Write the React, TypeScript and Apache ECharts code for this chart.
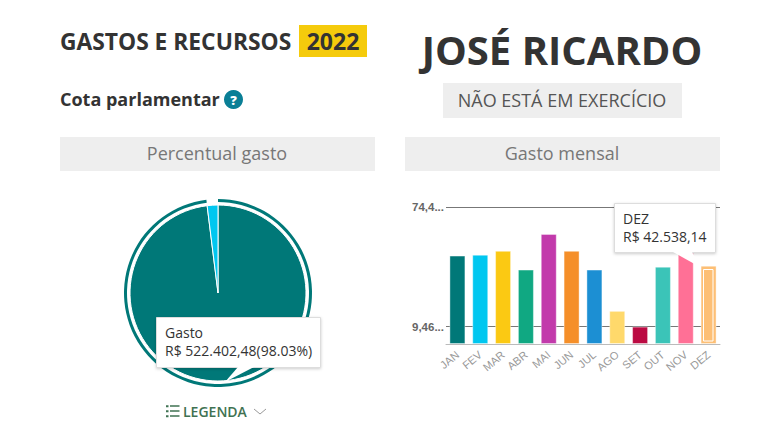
import React, { useEffect, useRef } from "react";
import * as echarts from "echarts";

const months = ["JAN", "FEV", "MAR", "ABR", "MAI", "JUN", "JUL", "AGO", "SET", "OUT", "NOV", "DEZ"];
const monthly = [48000, 48500, 50600, 40400, 59800, 50600, 40400, 18000, 9460, 42000, 74400, 42538.14];
const barColors = ["#007878", "#00c7f0", "#fbc913", "#10a882", "#c23aab", "#f58f29", "#1c8fd3", "#ffd96b", "#bb0a42", "#3bc4b8", "#ff7096", "#fdbf75"];
const yTicks = [9460, 74400];
const yTickLabels = ["9,46...", "74,4..."];
const pieNames = ["Gasto", "Disponível"];
const pieValues = [522402.48, 10500];
const pieColors = ["#007878", "#00c7f0"];
const FONT = '"Open Sans", sans-serif';

const App = () => {
  const ref = useRef<HTMLDivElement>(null);
  useEffect(() => {
    document.body.style.margin = "0";
    const chart = echarts.init(ref.current!, undefined, { renderer: "svg" });
    const text = (x: number, y: number, t: string, size: number, fill: string, weight = 400, align = "center", z = 10) => ({
      type: "text", x, y, z,
      style: { text: t, fontFamily: FONT, fontSize: size, fontWeight: weight, fill, align, verticalAlign: "middle" },
    });
    const rect = (x: number, y: number, width: number, height: number, fill: string, z = 1) => ({
      type: "rect", z, shape: { x, y, width, height }, style: { fill },
    });
    const tipStyle = { fill: "#fff", stroke: "#ddd", lineWidth: 1, shadowBlur: 3, shadowColor: "rgba(0,0,0,0.2)", shadowOffsetY: 1 };
    const tooltip = (x: number, y: number, w: number, h: number, arrow: number[][], l1: string, l2: string) => [
      { type: "rect", z: 20, shape: { x: x + 0.5, y: y + 0.5, width: w - 1, height: h - 1 }, style: tipStyle },
      { type: "polygon", z: 21, shape: { points: arrow }, style: { fill: "#fff" } },
      text(x + 9, y + 15, l1, 14, "#333", 400, "left", 22),
      text(x + 9, y + 33, l2, 14, "#333", 400, "left", 22),
    ];
    chart.setOption({
      animation: false,
      backgroundColor: "#fff",
      grid: { left: 446, right: 60, top: 207, bottom: 101, containLabel: false },
      tooltip: { show: false },
      xAxis: {
        type: "category", data: months,
        axisTick: { show: false },
        axisLine: { lineStyle: { color: "#bbb" } },
        axisLabel: { rotate: 40, color: "#999", fontSize: 11, fontFamily: "Liberation Sans, sans-serif", interval: 0, margin: 9 },
      },
      yAxis: {
        type: "value", min: 0, max: 74400,
        axisLine: { show: false },
        axisTick: { show: false, customValues: yTicks },
        axisLabel: {
          customValues: yTicks, color: "#666", fontSize: 11.5, fontWeight: 700, fontFamily: "Liberation Sans, sans-serif", margin: 2,
          formatter: (v: number) => yTickLabels[yTicks.indexOf(v)],
        },
        splitLine: { show: true, lineStyle: { color: "#777" } },
      },
      series: [
        {
          type: "bar", barWidth: 16,
          data: monthly.map((v, i) => ({
            value: v,
            itemStyle: { color: barColors[i], borderColor: "rgba(255,255,255,0.4)", borderWidth: 1 },
          })),
        },
        {
          type: "pie", center: [218, 293], radius: [0, 88], silent: true, startAngle: 90,
          label: { show: false }, labelLine: { show: false },
          itemStyle: { borderColor: "#fff", borderWidth: 1 },
          data: pieValues.map((v, i) => ({ name: pieNames[i], value: v, itemStyle: { color: pieColors[i] } })),
        },
        {
          type: "pie", center: [218, 293], radius: [91, 94], silent: true, startAngle: 90,
          label: { show: false }, labelLine: { show: false },
          data: pieValues.map((v, i) => ({ name: pieNames[i], value: v, itemStyle: { color: i === 0 ? pieColors[0] : "rgba(0,0,0,0)" } })),
        },
      ],
      graphic: { elements: [
        text(60, 41, "GASTOS E RECURSOS", 22.8, "#333", 700, "left"),
        rect(299, 25, 68, 32, "#f5cb0c"),
        text(333, 41, "2022", 23, "#333", 700),
        text(60, 99, "Cota parlamentar", 18, "#333", 700, "left"),
        { type: "circle", z: 5, shape: { cx: 233.5, cy: 99.5, r: 9.5 }, style: { fill: "#0a7f96" } },
        text(233.5, 99.5, "?", 13, "#fff", 800),
        rect(60, 137, 315, 34, "#eee"),
        text(217, 153, "Percentual gasto", 18, "#777"),
        text(562, 49, "JOSÉ RICARDO", 40, "#333", 700),
        rect(443, 83, 239, 35, "#eee"),
        text(562, 100, "NÃO ESTÁ EM EXERCÍCIO", 18, "#555"),
        rect(405, 137, 315, 34, "#eee"),
        text(562, 153, "Gasto mensal", 18, "#777"),
        text(183, 411, "LEGENDA", 14, "#3f7252", 600, "left"),
        ...[406, 411, 416].flatMap((y) => [rect(166, y - 0.75, 2.5, 2, "#3f7252", 5), rect(170, y - 0.75, 9.5, 1.5, "#3f7252", 5)]),
        { type: "polyline", z: 5, shape: { points: [[254, 409], [260, 414], [266, 409]] }, style: { stroke: "#999", fill: "none", lineWidth: 1 } },
        { type: "rect", z: 12, shape: { x: 703.5, y: 269.5, width: 9.5, height: 71.5 }, style: { fill: "none", stroke: "#fff", lineWidth: 1 } },
        ...tooltip(156, 317, 165, 51, [[238, 367], [225, 382], [254, 367]], "Gasto", "R$ 522.402,48(98.03%)"),
        ...tooltip(614, 203, 102, 50, [[673, 252], [700, 267], [692, 252]], "DEZ", "R$ 42.538,14"),
      ] },
    });
    return () => chart.dispose();
  }, []);
  return <div ref={ref} style={{ position: "absolute", left: 0, top: 0, width: 780, height: 445 }} />;
};

export default App;
